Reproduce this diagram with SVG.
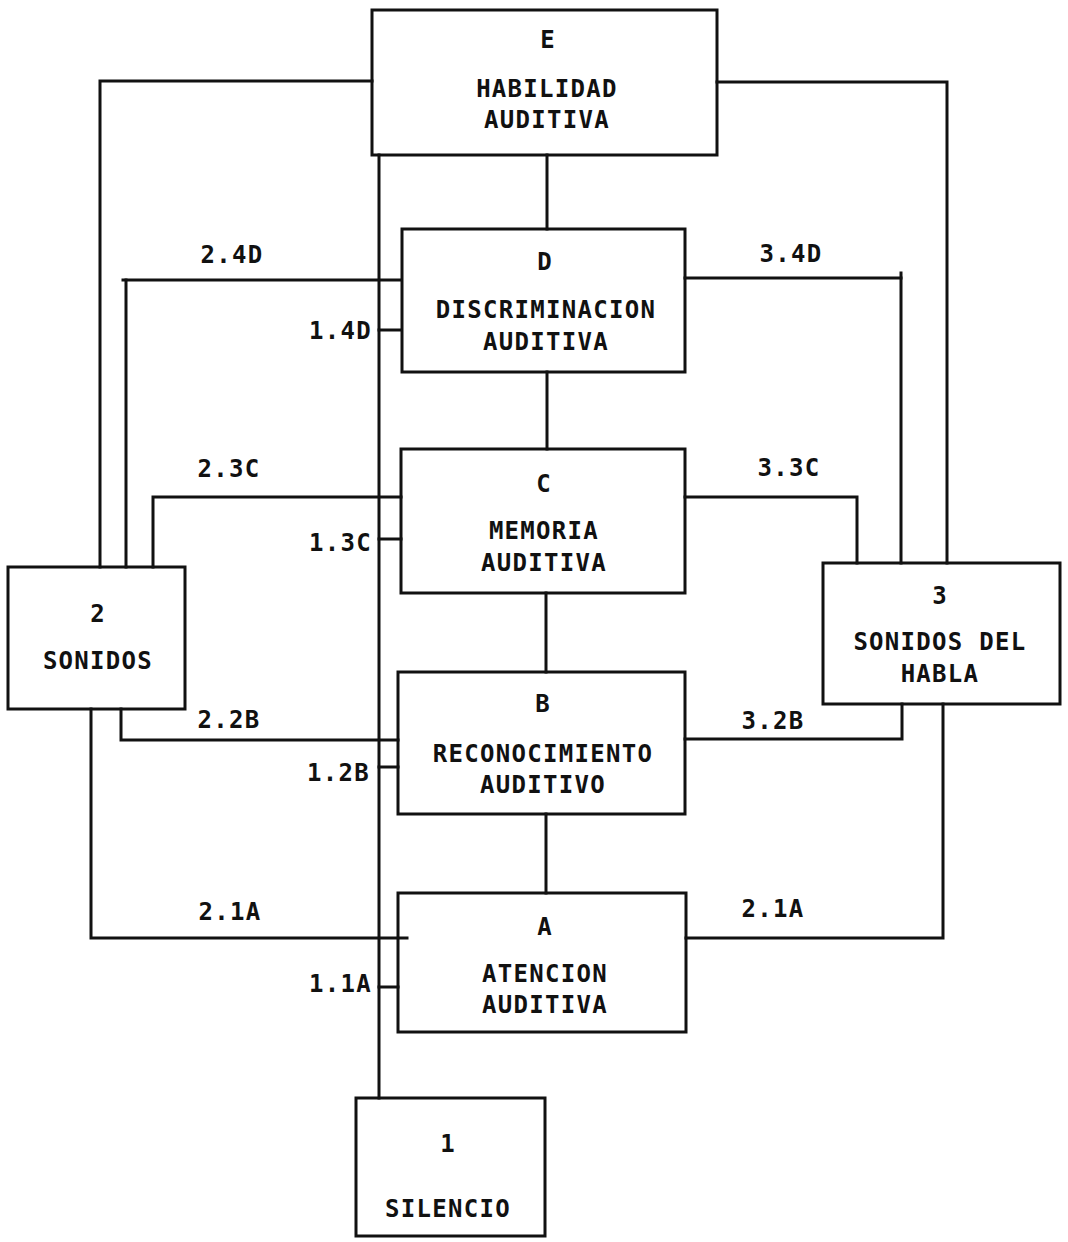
<svg xmlns="http://www.w3.org/2000/svg" width="1068" height="1242" viewBox="0 0 1068 1242">
<style>
  .box { fill: #ffffff; stroke: #111111; stroke-width: 3; }
  .ln { fill: none; stroke: #111111; stroke-width: 3; stroke-linecap: square; stroke-linejoin: miter; }
  text { font-family: "DejaVu Sans Mono", "Liberation Mono", monospace; font-weight: bold; font-size: 24px; letter-spacing: 1.3px; fill: #111111; }
  .c { text-anchor: middle; }
  .r { text-anchor: end; }
</style>
<rect width="1068" height="1242" fill="#ffffff"/>
<g id="node-E">
  <rect class="box" x="372" y="10" width="345" height="145"/>
  <text class="c" x="548" y="48">E</text>
  <text class="c" x="547" y="97">HABILIDAD</text>
  <text class="c" x="547" y="128">AUDITIVA</text>
</g>
<g id="node-D">
  <rect class="box" x="402" y="229" width="283" height="143"/>
  <text class="c" x="545" y="270">D</text>
  <text class="c" x="546" y="318">DISCRIMINACION</text>
  <text class="c" x="546" y="350">AUDITIVA</text>
</g>
<g id="node-C">
  <rect class="box" x="401" y="449" width="284" height="144"/>
  <text class="c" x="544" y="492">C</text>
  <text class="c" x="544" y="539">MEMORIA</text>
  <text class="c" x="544" y="571">AUDITIVA</text>
</g>
<g id="node-B">
  <rect class="box" x="398" y="672" width="287" height="142"/>
  <text class="c" x="543" y="712">B</text>
  <text class="c" x="543" y="762">RECONOCIMIENTO</text>
  <text class="c" x="543" y="793">AUDITIVO</text>
</g>
<g id="node-A">
  <rect class="box" x="398" y="893" width="288" height="139"/>
  <text class="c" x="545" y="935">A</text>
  <text class="c" x="545" y="982">ATENCION</text>
  <text class="c" x="545" y="1013">AUDITIVA</text>
</g>
<g id="node-1">
  <rect class="box" x="356" y="1098" width="189" height="138"/>
  <text class="c" x="448" y="1152">1</text>
  <text class="c" x="448" y="1217">SILENCIO</text>
</g>
<g id="node-2">
  <rect class="box" x="8" y="567" width="177" height="142"/>
  <text class="c" x="98" y="622">2</text>
  <text class="c" x="98" y="669">SONIDOS</text>
</g>
<g id="node-3">
  <rect class="box" x="823" y="563" width="237" height="141"/>
  <text class="c" x="940" y="604">3</text>
  <text class="c" x="940" y="650">SONIDOS DEL</text>
  <text class="c" x="940" y="682">HABLA</text>
</g>
<g id="connectors">
  <polyline class="ln" points="372,81 100,81 100,567"/>
  <polyline class="ln" points="717,82 947,82 947,563"/>
  <line class="ln" x1="379" y1="155" x2="379" y2="1098"/>
  <line class="ln" x1="547" y1="155" x2="547" y2="229"/>
  <line class="ln" x1="547" y1="372" x2="547" y2="449"/>
  <line class="ln" x1="546" y1="593" x2="546" y2="672"/>
  <line class="ln" x1="546" y1="814" x2="546" y2="893"/>
  <polyline class="ln" points="401,280 123,280"/>
  <line class="ln" x1="126" y1="280" x2="126" y2="567"/>
  <line class="ln" x1="379" y1="330" x2="401" y2="330"/>
  <polyline class="ln" points="401,497 153,497 153,567"/>
  <line class="ln" x1="379" y1="539" x2="401" y2="539"/>
  <polyline class="ln" points="121,709 121,740 398,740"/>
  <line class="ln" x1="379" y1="767" x2="398" y2="767"/>
  <polyline class="ln" points="91,709 91,938 407,938"/>
  <line class="ln" x1="379" y1="987" x2="398" y2="987"/>
  <polyline class="ln" points="685,278 901,278"/>
  <line class="ln" x1="901" y1="273" x2="901" y2="563"/>
  <polyline class="ln" points="685,497 857,497 857,563"/>
  <polyline class="ln" points="685,739 902,739 902,704"/>
  <polyline class="ln" points="686,938 943,938 943,704"/>
</g>
<g id="labels">
  <text class="c" x="232" y="263">2.4D</text>
  <text class="r" x="372" y="339">1.4D</text>
  <text class="c" x="229" y="477">2.3C</text>
  <text class="r" x="372" y="551">1.3C</text>
  <text class="c" x="229" y="728">2.2B</text>
  <text class="r" x="370" y="781">1.2B</text>
  <text class="c" x="230" y="920">2.1A</text>
  <text class="r" x="372" y="992">1.1A</text>
  <text class="c" x="791" y="262">3.4D</text>
  <text class="c" x="789" y="476">3.3C</text>
  <text class="c" x="773" y="729">3.2B</text>
  <text class="c" x="773" y="917">2.1A</text>
</g>
</svg>
